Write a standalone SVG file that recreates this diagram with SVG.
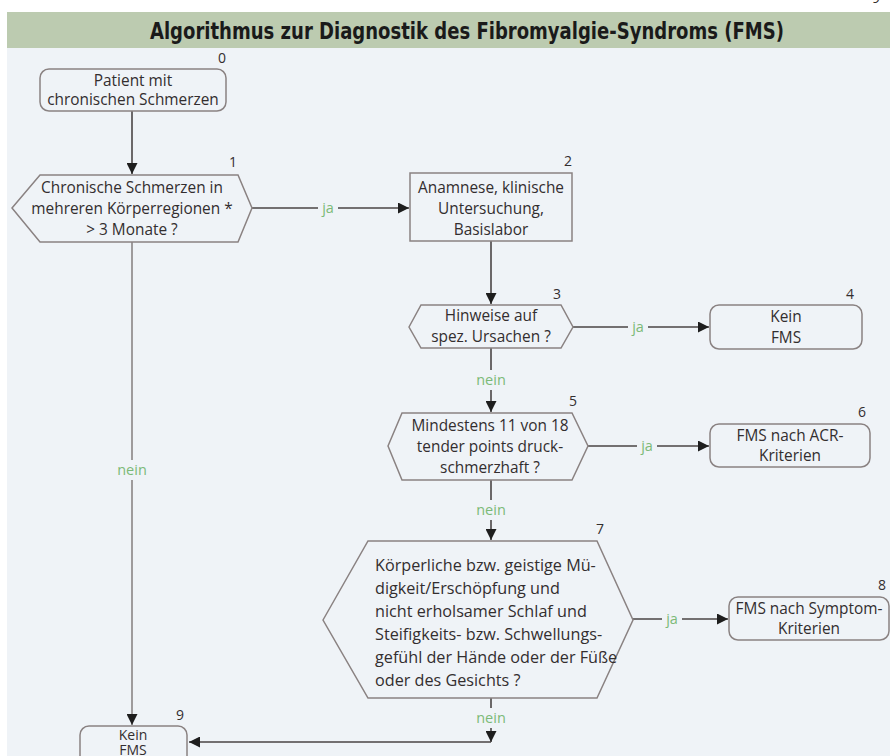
<svg xmlns="http://www.w3.org/2000/svg" width="890" height="756" viewBox="0 0 890 756">
<defs>
<marker id="ah" viewBox="0 0 10 10" refX="10" refY="5" markerWidth="11" markerHeight="11" markerUnits="userSpaceOnUse" orient="auto">
<path d="M0,0 L10,5 L0,10 z" fill="#1e1e1e"/>
</marker>
<style>
.bg{fill:#eff3f7}
.hdr{fill:#bccbb0}
.title{font-family:"Liberation Sans Narrow","DejaVu Sans Condensed",sans-serif;font-weight:bold;font-size:23px;fill:#1a1a1a;text-anchor:middle}
.node{fill:none;stroke:#8a8282;stroke-width:1.5}
.t{font-family:"Open Sans","Noto Sans",sans-serif;font-size:15.4px;fill:#332e2f;text-anchor:middle}
.ts{font-family:"Open Sans","Noto Sans",sans-serif;font-size:14px;fill:#332e2f;text-anchor:middle}
.tl{font-family:"Open Sans","Noto Sans",sans-serif;font-size:16.2px;fill:#332e2f}
.num{font-family:"Open Sans","Noto Sans",sans-serif;font-size:14px;fill:#332e2f;text-anchor:middle}
.c{fill:none;stroke:#4a4545;stroke-width:1.6}
.cg{fill:none;stroke:#8a8585;stroke-width:1.6}
.lbl{font-family:"Open Sans","Noto Sans",sans-serif;font-size:14.5px;fill:#7cba78;text-anchor:middle}
.lb{fill:#eff3f7}
</style>
</defs>
<text x="876" y="3" class="num">9</text>
<rect x="7" y="48" width="883" height="708" class="bg"/>
<rect x="7" y="12" width="883" height="36" class="hdr"/>
<text x="467" y="39" class="title" textLength="634" lengthAdjust="spacingAndGlyphs">Algorithmus zur Diagnostik des Fibromyalgie-Syndroms (FMS)</text>

<g id="connectors">
<line x1="132" y1="111" x2="132" y2="174" class="c" marker-end="url(#ah)"/>
<line x1="252" y1="208" x2="409" y2="208" class="c" marker-end="url(#ah)"/>
<line x1="132" y1="242" x2="132" y2="725" class="cg" marker-end="url(#ah)"/>
<line x1="491" y1="241" x2="491" y2="304" class="c" marker-end="url(#ah)"/>
<line x1="573" y1="327" x2="709" y2="327" class="c" marker-end="url(#ah)"/>
<line x1="491" y1="348" x2="491" y2="412" class="c" marker-end="url(#ah)"/>
<line x1="588" y1="446" x2="709" y2="446" class="c" marker-end="url(#ah)"/>
<line x1="491" y1="480" x2="491" y2="540" class="c" marker-end="url(#ah)"/>
<line x1="633" y1="619" x2="728" y2="619" class="c" marker-end="url(#ah)"/>
<line x1="491" y1="698" x2="491" y2="742" class="c" marker-end="url(#ah)"/>
<line x1="491" y1="742" x2="189" y2="742" class="c" marker-end="url(#ah)"/>
<rect x="318" y="199" width="20" height="18" class="lb"/>
<text x="328" y="213" class="lbl">ja</text>
<rect x="628" y="318" width="20" height="18" class="lb"/>
<text x="638" y="332" class="lbl">ja</text>
<rect x="637" y="437" width="20" height="18" class="lb"/>
<text x="647" y="451" class="lbl">ja</text>
<rect x="662" y="610" width="20" height="18" class="lb"/>
<text x="672" y="624" class="lbl">ja</text>
<rect x="114" y="460" width="36" height="20" class="lb"/>
<text x="132" y="475" class="lbl">nein</text>
<rect x="473" y="370" width="36" height="20" class="lb"/>
<text x="491" y="385" class="lbl">nein</text>
<rect x="473" y="500" width="36" height="20" class="lb"/>
<text x="491" y="515" class="lbl">nein</text>
<rect x="473" y="708" width="36" height="20" class="lb"/>
<text x="491" y="723" class="lbl">nein</text>
</g>

<g id="n0">
<rect x="40" y="69" width="186" height="42" rx="9" class="node"/>
<text x="133" y="86" class="t">Patient mit</text>
<text x="133" y="105" class="t">chronischen Schmerzen</text>
<text x="222" y="63" class="num">0</text>
</g>
<g id="n1">
<polygon points="12,208 40,175 238,175 252,208 238,242 40,242" class="node"/>
<text x="132" y="193" class="t">Chronische Schmerzen in</text>
<text x="132" y="214" class="t">mehreren Körperregionen *</text>
<text x="132" y="235" class="t">&gt; 3 Monate ?</text>
<text x="233" y="167" class="num">1</text>
</g>
<g id="n2">
<rect x="410" y="173" width="162" height="68" class="node"/>
<text x="491" y="193" class="t">Anamnese, klinische</text>
<text x="491" y="214" class="t">Untersuchung,</text>
<text x="491" y="235" class="t">Basislabor</text>
<text x="568" y="166" class="num">2</text>
</g>
<g id="n3">
<polygon points="409,327 421,305 561,305 573,327 561,348 421,348" class="node"/>
<text x="491" y="321" class="t">Hinweise auf</text>
<text x="491" y="342" class="t">spez. Ursachen ?</text>
<text x="557" y="299" class="num">3</text>
</g>
<g id="n4">
<rect x="710" y="305" width="152" height="44" rx="9" class="node"/>
<text x="786" y="322" class="t">Kein</text>
<text x="786" y="343" class="t">FMS</text>
<text x="850" y="299" class="num">4</text>
</g>
<g id="n5">
<polygon points="388,446 402,413 572,413 588,446 572,480 402,480" class="node"/>
<text x="490" y="431" class="t">Mindestens 11 von 18</text>
<text x="490" y="452" class="t">tender points druck-</text>
<text x="490" y="473" class="t">schmerzhaft ?</text>
<text x="573" y="406" class="num">5</text>
</g>
<g id="n6">
<rect x="710" y="424" width="160" height="43" rx="9" class="node"/>
<text x="790" y="441" class="t">FMS nach ACR-</text>
<text x="790" y="461" class="t">Kriterien</text>
<text x="862" y="417" class="num">6</text>
</g>
<g id="n7">
<polygon points="323,620 368,541 597,541 633,620 597,698 368,698" class="node"/>
<text x="375" y="571" class="tl">Körperliche bzw. geistige Mü-</text>
<text x="375" y="594" class="tl">digkeit/Erschöpfung und</text>
<text x="375" y="617" class="tl">nicht erholsamer Schlaf und</text>
<text x="375" y="640" class="tl">Steifigkeits- bzw. Schwellungs-</text>
<text x="375" y="663" class="tl">gefühl der Hände oder der Füße</text>
<text x="375" y="686" class="tl">oder des Gesichts ?</text>
<text x="600" y="534" class="num">7</text>
</g>
<g id="n8">
<rect x="729" y="597" width="160" height="43" rx="9" class="node"/>
<text x="809" y="614" class="t">FMS nach Symptom-</text>
<text x="809" y="634" class="t">Kriterien</text>
<text x="882" y="590" class="num">8</text>
</g>
<g id="n9">
<rect x="80" y="726" width="107" height="44" rx="9" class="node"/>
<text x="133" y="740" class="ts">Kein</text>
<text x="133" y="755" class="ts">FMS</text>
<text x="180" y="720" class="num">9</text>
</g>
</svg>
